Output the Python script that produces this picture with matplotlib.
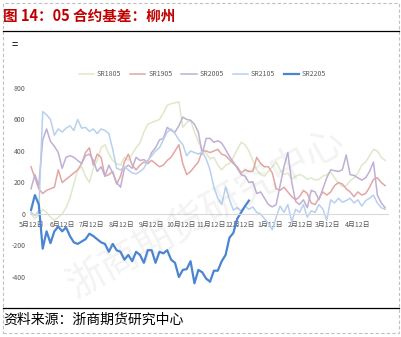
import numpy as np
import pandas as pd
import matplotlib
matplotlib.use("Agg")
import matplotlib.pyplot as plt
from matplotlib.lines import Line2D
from matplotlib.patches import Rectangle

plt.rcParams['font.family'] = ['Noto Sans CJK SC', 'DejaVu Sans']
plt.rcParams['axes.unicode_minus'] = False

# 柳州现货对05合约基差（元/吨），自5月11日起每4天取一个值
sr1805 = [0, -30, 0, 30, 10, -20, -40, -20, 0, 40,
          100, 190, 280, 300, 240, 200, 290, 340, 420, 440,
          380, 340, 320, 310, 360, 340, 380, 420, 450, 520,
          570, 580, 590, 600, 640, 690, 700, 705, 712, 550,
          580, 595, 520, 460, 410, 385, 350, 360, 310, 280,
          310, 320, 360, 410, 455, 440, 400, 340, 280, 250,
          240, 270, 300, 330, 280, 250, 260, 220, 240, 250,
          240, 220, 230, 215, 220, 240, 250, 265, 230, 195,
          175, 180, 210, 230, 260, 310, 330, 370, 410, 400,
          360, 340]
sr1905 = [300, 230, 160, 130, 150, 160, 170, 280, 200, 220,
          240, 260, 280, 320, 390, 420, 310, 380, 360, 240,
          250, 270, 190, 240, 330, 380, 310, 280, 310, 330,
          320, 340, 320, 300, 310, 340, 360, 400, 440, 320,
          250, 270, 300, 330, 400, 400, 390, 400, 410, 380,
          370, 345, 320, 300, 260, 280, 270, 270, 360, 320,
          300, 300, 260, 160, 150, 170, 140, 110, 90, 110,
          150, 130, 70, 60, 100, 140, 120, 140, 180, 200,
          190, 160, 140, 110, 140, 120, 130, 170, 220, 230,
          200, 180]
sr2005 = [160, 250, 180, 470, 540, 460, 430, 390, 290, 360,
          370, 360, 340, 320, 370, 380, 340, 270, 300, 240,
          310, 260, 200, 170, 290, 310, 290, 360, 340, 345,
          330, 390, 420, 470, 480, 550, 530, 520, 560, 615,
          600, 595, 570, 520, 380, 480, 480, 455, 465, 450,
          410, 365, 330, 290, 250, 240, 200, 205, 130, 140,
          100, 60, 45, 60, 180, 300, 390, 200, 80, 60,
          90, 40, 150, 140, 90, 160, 230, 280, 275, 270,
          280, 375, 250, 245, 230, 215, 230, 270, 330, 120,
          70, 40]
sr2105 = [10, -10, 20, 650, 630, 600, 500, 540, 520, 545,
          560, 530, 600, 545, 550, 525, 540, 510, 540, 530,
          510, 410, 290, 280, 300, 280, 260, 255, 270, 290,
          340, 370, 400, 420, 470, 520, 540, 510, 470, 440,
          370, 400, 390, 380, 395, 350, 280, 170, 100, 60,
          170, 90, 25, 40, 20, 50, 30, 45, 10, 0,
          -30, -60, -100, -20, 50, 10, 60, -50, 30, 10,
          60, -20, 20, 10, 60, 30, -40, 90, 70, 100,
          75, 85, 100, 70, 90, 50, 85, 100, 120, 70,
          40, 30]
sr2205 = [25, 120, 60, -220, -110, -185, -110, -80, -110, -85,
          -140, -180, -190, -175, -160, -125, -140, -160, -180, -190,
          -240, -190, -230, -240, -290, -260, -300, -240, -260, -310,
          -230, -230, -310, -240, -250, -230, -290, -310, -400, -355,
          -350, -300, -440, -355, -370, -410, -430, -360, -360, -300,
          -260, -150, -120, -30, 10, 50, 85]

series_names = ["SR1805", "SR1905", "SR2005", "SR2105", "SR2205"]
series_values = [sr1805, sr1905, sr2005, sr2105, sr2205]
series_colors = ["#dfe8c9", "#e3a6a2", "#c0afd5", "#b8d0ef", "#4a85d2"]
series_widths = [1.1, 1.1, 1.1, 1.1, 1.6]

month_labels = ["5月12日", "6月12日", "7月12日", "8月12日", "9月12日", "10月12日",
                "11月12日", "12月12日", "1月12日", "2月12日", "3月12日", "4月12日"]
y_ticks = [-400, -200, 0, 200, 400, 600, 800]

start = pd.Timestamp(2021, 5, 12)
tick_days = [(start + pd.DateOffset(months=i) - start).days for i in range(len(month_labels))]

W, H = 402, 337
fig = plt.figure(figsize=(W / 100, H / 100), dpi=100)
fig.patch.set_facecolor("white")

ax = fig.add_axes([30.05 / W, 1 - 289.6 / H, 358 / W, 209.5 / H])
ax.set_facecolor("none")
for name, vals, col, lw in zip(series_names, series_values, series_colors, series_widths):
    days = np.arange(len(vals)) * 4 - 1
    ax.plot(days, vals, color=col, lw=lw, label=name, solid_joinstyle="round")

ax.set_xlim(-2, 366)
ax.set_ylim(-480, 850)
for s in ["top", "right", "left"]:
    ax.spines[s].set_visible(False)
ax.spines["bottom"].set_position(("data", 0))
ax.spines["bottom"].set_color("#d9d9d9")
ax.spines["bottom"].set_linewidth(0.8)
ax.set_xticks(tick_days)
ax.set_xticklabels(month_labels)
ax.set_yticks(y_ticks)
ax.set_yticklabels([str(v) for v in y_ticks])
ax.tick_params(axis="x", length=0, pad=5, labelsize=5, labelcolor="#595959")
ax.tick_params(axis="y", length=0, pad=3.5, labelsize=5, labelcolor="#595959")

leg = ax.legend(loc="center", bbox_to_anchor=(202.5 / W, 1 - 74 / H),
                bbox_transform=fig.transFigure, ncol=5, frameon=False,
                fontsize=5, handlelength=2.2, handletextpad=0.4,
                columnspacing=1.3)
for t in leg.get_texts():
    t.set_color("#595959")

# 标题与分隔线
fig.text(3 / W, 1 - 15.5 / H, "图 14：05 合约基差：柳州", fontsize=10.5,
         fontweight="bold", color="#c00000", va="center", ha="left")
fig.add_artist(Line2D([3 / W, 399 / W], [1 - 30.5 / H, 1 - 30.5 / H],
                      color="black", lw=0.9, transform=fig.transFigure))
fig.text(12 / W, 1 - 44 / H, "=", fontsize=8, color="black", va="center", ha="left")

# 水印
fig.text(205 / W, 1 - 213 / H, "浙商期货研究中心", fontsize=28, rotation=29,
         color="#909090", alpha=0.11, ha="center", va="center")

# 资料来源
fig.add_artist(Line2D([3 / W, 399 / W], [1 - 307.5 / H, 1 - 307.5 / H],
                      color="black", lw=0.9, transform=fig.transFigure))
fig.text(3 / W, 1 - 320 / H, "资料来源：浙商期货研究中心", fontsize=10,
         fontweight="light", color="black", va="center", ha="left")

# 外框虚线
fig.add_artist(Rectangle((2.7 / W, 1 - 333.3 / H), 396.6 / W, 330 / H,
                         transform=fig.transFigure, fill=False,
                         ec="#c0c0c0", lw=0.8, ls=(0, (3, 2))))

fig.savefig("out.png", dpi=100, facecolor="white")
